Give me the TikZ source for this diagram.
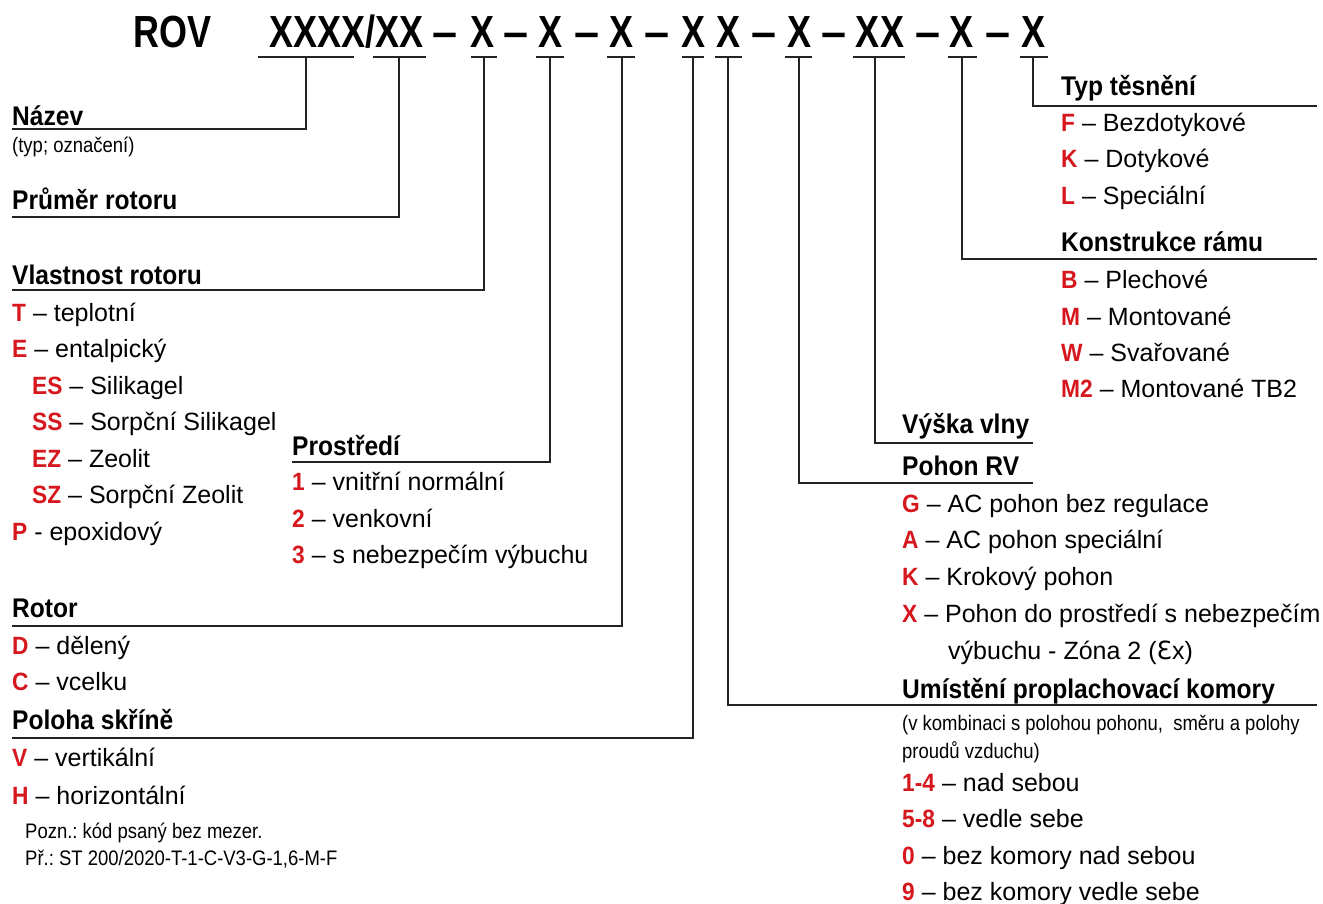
\documentclass[tikz,border=0pt]{standalone}
\usepackage{fontspec}
\setmainfont{Liberation Sans}
\newfontfamily\nbfont{Liberation Sans}[FakeStretch=0.91]
\newfontfamily\ttlfont{Liberation Sans}[FakeStretch=0.8]
\newfontfamily\smfont{Liberation Sans}[FakeStretch=0.88]
\newfontfamily\dvfont{DejaVu Sans}
\definecolor{codered}{RGB}{214,24,30}
\definecolor{inkline}{RGB}{35,35,35}
\newcommand\rk[1]{{\color{codered}\nbfont\bfseries #1}}
\frenchspacing
\tikzset{
 hd/.style={inner sep=0pt, anchor=base west, font=\fontsize{27}{32}\selectfont\nbfont\bfseries},
 itm/.style={inner sep=0pt, anchor=base west, font=\fontsize{25}{30}\selectfont},
 sml/.style={inner sep=0pt, anchor=base west, font=\fontsize{21}{24}\selectfont\smfont},
 cd/.style={inner sep=0pt, anchor=base, font=\fontsize{45}{50}\selectfont\ttlfont\bfseries},
 cdash/.style={inner sep=0pt, anchor=base, font=\fontsize{45}{50}\selectfont\bfseries},
 ln/.style={line width=1.8pt, draw=inkline},
}
\begin{document}
\begin{tikzpicture}[x=1pt,y=-1pt]
\useasboundingbox[fill=white] (0,0) rectangle (1323,904);
% code line
\node[cd] (rov) at (173,48) {ROV};
\node[cd] (c1) at (346.5,48) {XXXX/XX};
\node[cdash] (d1) at (445.5,48) {–};
\node[cd] (c2) at (483,48) {X};
\node[cdash] (d2) at (516,48) {–};
\node[cd] (c3) at (550.5,48) {X};
\node[cdash] (d3) at (587,48) {–};
\node[cd] (c4) at (621,48) {X};
\node[cdash] (d4) at (657.5,48) {–};
\node[cd] (c5) at (693.5,48) {X};
\node[cd] (c6) at (728.5,48) {X};
\node[cdash] (d5) at (764,48) {–};
\node[cd] (c7) at (799.5,48) {X};
\node[cdash] (d6) at (834,48) {–};
\node[cd] (c8) at (880,48) {XX};
\node[cdash] (d7) at (928,48) {–};
\node[cd] (c9) at (961.5,48) {X};
\node[cdash] (d8) at (998,48) {–};
\node[cd] (c10) at (1033.5,48) {X};
% connectors
\foreach \i/\tx/\ua/\ub/\ly/\ex in {
 1/306/258/354/129/12,
 2/399/373/426/217/12,
 3/484/471/497/290/12,
 4/550/536/564/462/292,
 5/622/607/635/626/12,
 6/693/682/704/738/12,
 7/728/715/742/705/1317,
 8/799/785/812/483/1033,
 9/875/853/905/443/1033,
 10/962/948/977/259/1317,
 11/1033/1020/1048/106/1317}{
 \coordinate (ua\i) at (\ua,57);
 \coordinate (ub\i) at (\ub,57);
 \coordinate (tk\i) at (\tx,57);
 \coordinate (en\i) at (\ex,\ly);
 \draw[ln] (ua\i) -- (ub\i);
 \draw[ln] (tk\i) |- (en\i);
}
% left column
\node[hd] (nazev) at (12,126) {Název};
\node[sml] (nazevs) at (12,153) {(typ; označení)};
\node[hd] (prumer) at (12,210) {Průměr rotoru};
\node[hd] (vlast) at (12,284) {Vlastnost rotoru};
\node[itm] (vT) at (12,321) {\rk{T} – teplotní};
\node[itm] (vE) at (12,357.5) {\rk{E} – entalpický};
\node[itm] (vES) at (32,394) {\rk{ES} – Silikagel};
\node[itm] (vSS) at (32,430.5) {\rk{SS} – Sorpční Silikagel};
\node[itm] (vEZ) at (32,467) {\rk{EZ} – Zeolit};
\node[itm] (vSZ) at (32,503.5) {\rk{SZ} – Sorpční Zeolit};
\node[itm] (vP) at (12,540) {\rk{P} - epoxidový};
\node[hd] (rotor) at (12,617) {Rotor};
\node[itm] (rD) at (12,654) {\rk{D} – dělený};
\node[itm] (rC) at (12,690) {\rk{C} – vcelku};
\node[hd] (poloha) at (12,729) {Poloha skříně};
\node[itm] (pV) at (12,766) {\rk{V} – vertikální};
\node[itm] (pH) at (12,804) {\rk{H} – horizontální};
\node[sml] (pozn) at (25,838) {Pozn.: kód psaný bez mezer.};
\node[sml] (pr) at (25,865) {Př.: ST 200/2020-T-1-C-V3-G-1,6-M-F};
% middle
\node[hd] (prost) at (292,455) {Prostředí};
\node[itm] (s1) at (292,490) {\rk{1} – vnitřní normální};
\node[itm] (s2) at (292,527) {\rk{2} – venkovní};
\node[itm] (s3) at (292,563) {\rk{3} – s nebezpečím výbuchu};
% right
\node[hd] (typ) at (1061,96) {Typ těsnění};
\node[itm] (tF) at (1061,132) {\rk{F} – Bezdotykové};
\node[itm] (tK) at (1061,168) {\rk{K} – Dotykové};
\node[itm] (tL) at (1061,205) {\rk{L} – Speciální};
\node[hd] (konst) at (1061,252) {Konstrukce rámu};
\node[itm] (kB) at (1061,288) {\rk{B} – Plechové};
\node[itm] (kM) at (1061,325) {\rk{M} – Montované};
\node[itm] (kW) at (1061,361) {\rk{W} – Svařované};
\node[itm] (kM2) at (1061,397) {\rk{M2} – Montované TB2};
\node[hd] (vyska) at (902,433) {Výška vlny};
\node[hd] (pohon) at (902,475) {Pohon RV};
\node[itm] (pG) at (902,512) {\rk{G} – AC pohon bez regulace};
\node[itm] (pA) at (902,548) {\rk{A} – AC pohon speciální};
\node[itm] (pK) at (902,585) {\rk{K} – Krokový pohon};
\node[itm] (pX) at (902,622) {\rk{X} – Pohon do prostředí s nebezpečím};
\node[itm] (pX2) at (948,659) {výbuchu - Zóna 2 ({\dvfont Ɛ}x)};
\node[hd] (umist) at (902,698) {Umístění proplachovací komory};
\node[sml] (um1) at (902,730) {(v kombinaci s polohou pohonu,~ směru a polohy};
\node[sml] (um2) at (902,758) {proudů vzduchu)};
\node[itm] (u14) at (902,791) {\rk{1-4} – nad sebou};
\node[itm] (u58) at (902,827) {\rk{5-8} – vedle sebe};
\node[itm] (u0) at (902,864) {\rk{0} – bez komory nad sebou};
\node[itm] (u9) at (902,900) {\rk{9} – bez komory vedle sebe};
\end{tikzpicture}
\end{document}
